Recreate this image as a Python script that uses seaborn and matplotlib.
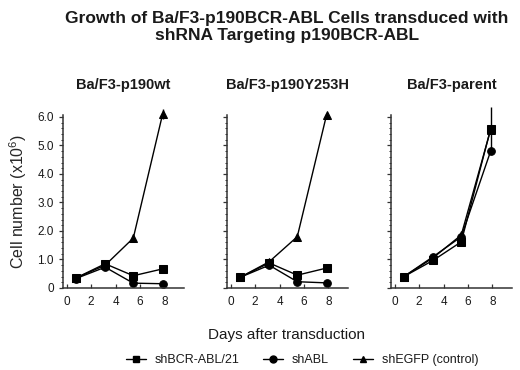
import numpy as np
import pandas as pd
import matplotlib
matplotlib.use("Agg")
import matplotlib.pyplot as plt
from matplotlib.lines import Line2D
from matplotlib.ticker import MultipleLocator
import seaborn as sns

# Days after transduction (sampling points)
days = [0.75, 3.15, 5.45, 7.85]

panels = ["Ba/F3-p190wt", "Ba/F3-p190Y253H", "Ba/F3-parent"]
groups = ["shBCR-ABL/21", "shABL", "shEGFP (control)"]

# Cell number (x10^6)
wt_bcr = [0.35, 0.85, 0.43, 0.67]
wt_abl = [0.33, 0.73, 0.17, 0.15]
wt_egfp = [0.35, 0.80, 1.75, 6.10]

y253h_bcr = [0.37, 0.88, 0.45, 0.70]
y253h_abl = [0.37, 0.80, 0.22, 0.18]
y253h_egfp = [0.37, 0.92, 1.80, 6.08]

parent_bcr = [0.40, 0.97, 1.62, 5.58]
parent_abl = [0.40, 1.10, 1.80, 4.80]
parent_egfp = [0.40, 1.06, 1.86, 5.55]

# error bars (only the visible ones)
wt_egfp_err = [0, 0, 0.15, 0.18]
parent_bcr_err = [0, 0, 0, 0.78]

values = {
    "Ba/F3-p190wt": [wt_bcr, wt_abl, wt_egfp],
    "Ba/F3-p190Y253H": [y253h_bcr, y253h_abl, y253h_egfp],
    "Ba/F3-parent": [parent_bcr, parent_abl, parent_egfp],
}
errors = {
    ("Ba/F3-p190wt", "shEGFP (control)"): wt_egfp_err,
    ("Ba/F3-parent", "shBCR-ABL/21"): parent_bcr_err,
}

rows = []
for p in panels:
    for g, ys in zip(groups, values[p]):
        for d, y in zip(days, ys):
            rows.append({"panel": p, "group": g, "day": d, "cells": y})
df = pd.DataFrame(rows)

sns.set_style("ticks")
plt.rcParams["font.family"] = ["Liberation Sans", "DejaVu Sans"]
plt.rcParams["mathtext.fontset"] = "custom"
plt.rcParams["mathtext.rm"] = "Liberation Sans"
plt.rcParams["mathtext.it"] = "Liberation Sans"
plt.rcParams["text.color"] = "#1a1a1a"

markers = {"shBCR-ABL/21": "s", "shABL": "o", "shEGFP (control)": "^"}

fig = plt.figure(figsize=(5.2, 3.7), dpi=100)
W, H = 520, 370
lefts = [63, 227, 391]
for i, p in enumerate(panels):
    ax = fig.add_axes([lefts[i] / W, (H - 288) / H, 121 / W, 173 / H])
    sub = df[df["panel"] == p]
    sns.lineplot(data=sub, x="day", y="cells", style="group", markers=markers,
                 dashes=False, color="black", markersize=5.5, linewidth=1.0,
                 markeredgecolor="black", errorbar=None, legend=False, ax=ax,
                 style_order=groups)
    for ln in ax.lines:
        ln.set_clip_on(False)
    for g in groups:
        err = errors.get((p, g))
        if err is not None:
            ys = values[p][groups.index(g)]
            eb = ax.errorbar(days, ys, yerr=err, fmt="none", ecolor="black",
                             elinewidth=1.0, capsize=0)
            for c in eb.lines[2]:
                c.set_clip_on(False)
    ax.set_xlim(-0.3, 9.6)
    ax.set_ylim(0, 6.07)
    ax.set_xticks([0, 2, 4, 6, 8])
    ax.set_yticks(range(7))
    ax.yaxis.set_minor_locator(MultipleLocator(0.2))
    ax.tick_params(axis="x", direction="in", length=3, width=0.9,
                   labelsize=8.5, pad=6, colors="#333333", labelcolor="#1a1a1a")
    ax.tick_params(axis="y", which="major", direction="out", length=3,
                   width=0.9, labelsize=8.5, colors="#333333", labelcolor="#1a1a1a")
    ax.tick_params(axis="y", which="minor", direction="out", length=1.8,
                   width=0.7, colors="#333333")
    if i == 0:
        ax.set_yticklabels(["0"] + [f"{v:.1f}" for v in range(1, 7)])
        ax.set_ylabel("Cell number (x10$^6$)", fontsize=11.5, labelpad=6)
    else:
        ax.set_yticklabels([])
        ax.set_ylabel("")
    ax.set_xlabel("")
    for s in ["left", "bottom"]:
        ax.spines[s].set_linewidth(1.1)
        ax.spines[s].set_color("#333333")
    sns.despine(ax=ax)
    ax.set_title(p, fontsize=10.5, fontweight="bold", pad=19)

fig.text(287 / W, 1 - 27 / H,
         "Growth of Ba/F3-p190BCR-ABL Cells transduced with\nshRNA Targeting p190BCR-ABL",
         ha="center", va="center", fontsize=12.5, fontweight="bold")
fig.text(286 / W, 1 - 335 / H, "Days after transduction",
         ha="center", va="center", fontsize=11)

handles = [Line2D([], [], color="black", lw=1.0, marker=markers[g], markersize=5)
           for g in groups]
fig.legend(handles, groups, loc="center", bbox_to_anchor=(302 / W, 1 - 360 / H),
           ncol=3, frameon=False, fontsize=9, handlelength=1.6,
           handletextpad=0.7, columnspacing=1.9, borderaxespad=0)

fig.savefig("out.png", dpi=100)
